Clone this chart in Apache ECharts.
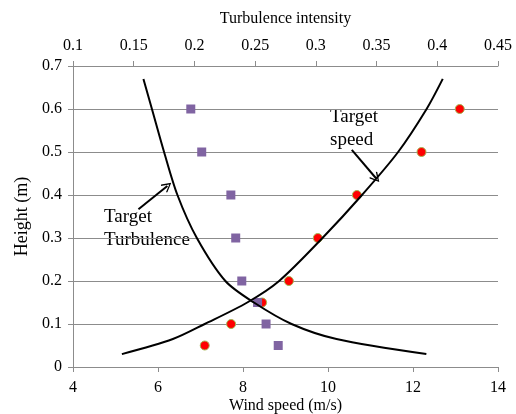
<!DOCTYPE html>
<html>
<head>
    <meta charset="utf-8">
    <title>Wind speed and turbulence profile</title>
    <script src="https://cdn.jsdelivr.net/npm/echarts@6/dist/echarts.min.js"></script>
    <style>
        html, body { margin: 0; padding: 0; background: #fff; }
        #main { width: 516px; height: 414px; }
    </style>
</head>
<body>
    <div id="main"></div>
    <script type="text/javascript">
        // measured points: height (m)
        var heights = [0.6, 0.5, 0.4, 0.3, 0.2, 0.15, 0.1, 0.05];
        // wind speed (m/s), red circles, bottom axis
        var speedValues = [13.1, 12.2, 10.68, 9.76, 9.08, 8.45, 7.72, 7.1];
        // turbulence intensity, purple squares, top axis
        var turbValues = [0.197, 0.206, 0.23, 0.234, 0.239, 0.252, 0.259, 0.269];

        // target curves
        var targetHeights = [0.03, 0.065, 0.1, 0.15, 0.2, 0.3, 0.4, 0.5, 0.6, 0.67];
        var targetSpeed = [5.15, 6.35, 7.1, 8.1, 8.85, 9.87, 10.8, 11.65, 12.32, 12.7];
        var targetTurb = [0.391, 0.317, 0.28, 0.249, 0.2255, 0.202, 0.186, 0.175, 0.165, 0.158];

        function pairs(xs, ys) {
            var out = [];
            for (var i = 0; i < xs.length; i++) out.push([xs[i], ys[i]]);
            return out;
        }

        var font = 'Liberation Serif, Times New Roman, serif';
        var gray = '#8c8c8c';
        // open arrow head, tip pointing up
        var arrowHead = 'path://M5,0 L10,9 L9,10 L5,2.5 L1,10 L0,9 Z';

        var myChart = echarts.init(document.getElementById('main'));
        var option = {
            animation: false,
            textStyle: { fontFamily: font },
            grid: { left: 73, right: 18, top: 66, bottom: 47, outerBoundsMode: 'none' },
            xAxis: [{
                type: 'value',
                position: 'bottom',
                min: 4, max: 14, interval: 2,
                name: 'Wind speed (m/s)',
                nameLocation: 'middle',
                nameGap: 31,
                nameMoveOverlap: false,
                nameTextStyle: { color: '#000', fontSize: 16, fontFamily: font },
                axisLine: { show: true, lineStyle: { color: gray } },
                axisTick: { show: true, length: 5, lineStyle: { color: gray } },
                axisLabel: { color: '#000', fontSize: 16, fontFamily: font, margin: 13 },
                splitLine: { show: false }
            }, {
                type: 'value',
                position: 'top',
                min: 0.1, max: 0.45, interval: 0.05,
                name: 'Turbulence intensity',
                nameLocation: 'middle',
                nameGap: 39,
                nameTextStyle: { color: '#000', fontSize: 16, fontFamily: font },
                axisLine: { show: true, onZero: false, lineStyle: { color: gray } },
                axisTick: { show: true, length: 5, lineStyle: { color: gray } },
                axisLabel: { color: '#000', fontSize: 16, fontFamily: font, margin: 12 },
                splitLine: { show: false }
            }],
            yAxis: {
                type: 'value',
                min: 0, max: 0.7, interval: 0.1,
                name: 'Height (m)',
                nameLocation: 'middle',
                nameGap: 39,
                nameTextStyle: { color: '#000', fontSize: 18, fontFamily: font },
                axisLine: { show: true, lineStyle: { color: gray } },
                axisTick: { show: true, length: 5, lineStyle: { color: gray } },
                axisLabel: { color: '#000', fontSize: 16, fontFamily: font, margin: 11 },
                splitLine: { show: true, lineStyle: { color: gray, width: 1 } }
            },
            series: [{
                name: 'Target speed',
                type: 'line',
                xAxisIndex: 0,
                data: pairs(targetSpeed, targetHeights),
                smooth: 0.3,
                showSymbol: false,
                lineStyle: { color: '#000', width: 2 },
                markLine: {
                    silent: true,
                    symbol: ['none', arrowHead],
                    symbolSize: [10, 10],
                    label: { show: false },
                    lineStyle: { color: '#000', width: 2, type: 'solid' },
                    data: [
                        [{ coord: [10.56, 0.505] }, { coord: [11.13, 0.439] }],
                        [{ coord: [5.54, 0.367] }, { coord: [6.22, 0.421] }]
                    ]
                }
            }, {
                name: 'Target turbulence',
                type: 'line',
                xAxisIndex: 1,
                data: pairs(targetTurb, targetHeights),
                smooth: 0.3,
                showSymbol: false,
                lineStyle: { color: '#000', width: 2 }
            }, {
                name: 'Wind speed',
                type: 'scatter',
                xAxisIndex: 0,
                data: pairs(speedValues, heights),
                symbol: 'circle',
                symbolSize: 9,
                itemStyle: { color: '#ff0000', borderColor: '#a3b552', borderWidth: 1, opacity: 1 }
            }, {
                name: 'Turbulence intensity',
                type: 'scatter',
                xAxisIndex: 1,
                data: pairs(turbValues, heights),
                symbol: 'rect',
                symbolSize: 9,
                itemStyle: { color: '#8064a2', opacity: 1 }
            }],
            graphic: [{
                type: 'text',
                left: 330,
                top: 106,
                style: { text: 'Target\nspeed', font: '19px ' + font, fill: '#000', lineHeight: 23 }
            }, {
                type: 'text',
                left: 104,
                top: 206,
                style: { text: 'Target\nTurbulence', font: '19px ' + font, fill: '#000', lineHeight: 23 }
            }]
        };
        myChart.setOption(option);
    </script>
</body>
</html>
